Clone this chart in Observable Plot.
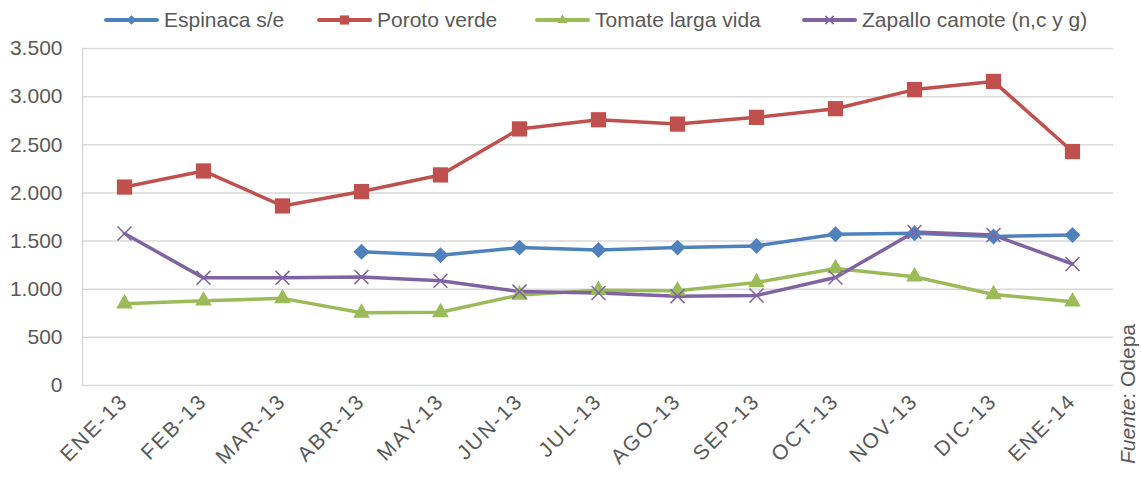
<!DOCTYPE html>
<html><head><meta charset="utf-8">
<script src="https://cdn.jsdelivr.net/npm/d3@7"></script>
<script src="https://cdn.jsdelivr.net/npm/@observablehq/plot@0.6"></script>
<style>
body{margin:0;background:#fff;font-family:"Liberation Sans",Arial,sans-serif;}
#wrap{position:relative;width:1141px;height:478px;overflow:hidden;}
#chart{position:absolute;left:0;top:0;}
.leg{position:absolute;top:6px;height:28px;display:flex;align-items:center;font-size:21px;color:#595959;white-space:nowrap;}
.leg svg{margin-right:5px;}
#src{position:absolute;left:1128px;top:394px;transform:translate(-50%,-50%) rotate(-90deg);font-size:21px;color:#595959;white-space:nowrap;}
[aria-label="x-axis tick label"] text{letter-spacing:2px;}
</style></head><body>
<div id="wrap"><div id="chart"></div><div id="legend"></div><div id="src"><i>Fuente</i>: Odepa</div></div>
<script>
const months = ["ENE-13","FEB-13","MAR-13","ABR-13","MAY-13","JUN-13","JUL-13","AGO-13","SEP-13","OCT-13","NOV-13","DIC-13","ENE-14"];
const espinaca = [null,null,null,1388,1353,1432,1408,1432,1450,1571,1582,1547,1564];
const poroto = [2061,2228,1865,2014,2187,2665,2760,2715,2785,2875,3073,3158,2430];
const tomate = [850,880,905,755,760,940,990,985,1070,1215,1130,945,870];
const zapallo = [1578,1118,1118,1128,1088,975,960,928,935,1122,1595,1562,1262];
const seriesNames = ["Espinaca s/e","Poroto verde","Tomate larga vida","Zapallo camote (n,c y g)"];
const colors = ["#4F81BD","#C0504D","#9BBB59","#8064A2"];
const yTicks = [0,500,1000,1500,2000,2500,3000,3500];

const allSeries = [espinaca, poroto, tomate, zapallo];
const rowsFor = (vals, i) => vals.map((v, j) => ({month: months[j], value: v, series: seriesNames[i]})).filter(d => d.value != null);
const rows = allSeries.map((v, i) => rowsFor(v, i));

const loc = d3.formatLocale({decimal: ",", thousands: ".", grouping: [3], currency: ["$", ""]});
const fmt = loc.format(",d");

const symbols = [
  {symbol: "diamond2", r: 7.2, fill: colors[0], stroke: "none"},
  {symbol: "square", r: 8.6, fill: colors[1], stroke: "none"},
  {symbol: "triangle", r: 6.2, fill: colors[2], stroke: "none"},
  {symbol: "times", r: 6.4, fill: "none", stroke: colors[3], strokeWidth: 1.5}
];

const marks = [
  Plot.gridY(yTicks, {stroke: "#d9d9d9", strokeOpacity: 1, strokeWidth: 1.5}),
  Plot.frame({anchor: "left", stroke: "#d9d9d9", strokeWidth: 1.5}),
  Plot.axisY(yTicks, {tickSize: 0, tickPadding: 20, tickFormat: fmt}),
  Plot.axisX({tickSize: 0, tickPadding: 12, tickRotate: -45})
];
rows.forEach((r, i) => {
  marks.push(Plot.line(r, {x: "month", y: "value", stroke: colors[i], strokeWidth: 3.5}));
});
rows.forEach((r, i) => {
  marks.push(Plot.dot(r, {x: "month", y: "value", ...symbols[i]}));
});

const plot = Plot.plot({
  width: 1141,
  height: 478,
  marginTop: 48,
  marginBottom: 93,
  marginLeft: 82,
  marginRight: 28,
  style: {fontSize: "21px", fontFamily: "'Liberation Sans', Arial, sans-serif", color: "#595959", background: "#fff"},
  x: {type: "point", domain: months, padding: 0.5, label: null},
  y: {domain: [0, 3500], label: null},
  marks
});
document.getElementById("chart").appendChild(plot);

// legend
const legPos = [104, 317, 535, 802];
const legend = document.getElementById("legend");
seriesNames.forEach((name, i) => {
  const div = document.createElement("div");
  div.className = "leg";
  div.style.left = legPos[i] + "px";
  const s = d3.create("svg").attr("width", 55).attr("height", 20);
  s.append("line").attr("x1", 2).attr("x2", 53).attr("y1", 10).attr("y2", 10)
    .attr("stroke", colors[i]).attr("stroke-width", 4).attr("stroke-linecap", "round");
  const sym = {diamond2: d3.symbolDiamond2, square: d3.symbolSquare, triangle: d3.symbolTriangle, times: d3.symbolTimes}[symbols[i].symbol];
  const size = Math.PI * Math.pow(symbols[i].r * 0.6, 2);
  s.append("path").attr("transform", "translate(27.5,10)").attr("d", d3.symbol(sym, size)())
    .attr("fill", symbols[i].fill).attr("stroke", symbols[i].stroke === "none" ? null : symbols[i].stroke)
    .attr("stroke-width", symbols[i].strokeWidth || null);
  div.appendChild(s.node());
  const t = document.createElement("span");
  t.textContent = name;
  div.appendChild(t);
  legend.appendChild(div);
});
</script>
</body></html>
